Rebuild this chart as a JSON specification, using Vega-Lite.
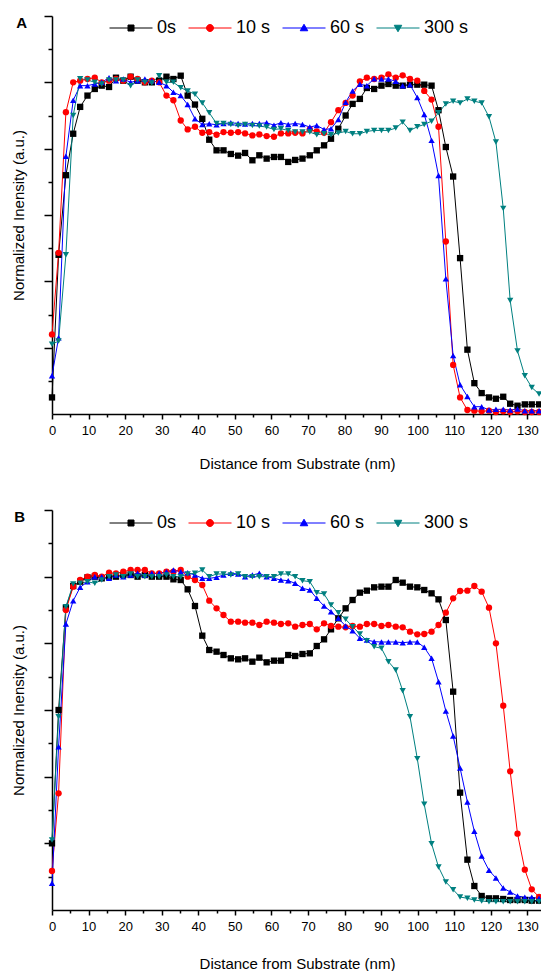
{
"$schema": "https://vega.github.io/schema/vega-lite/v6.json",
"background": "white",
"padding": {"left": 11, "top": 15, "right": 0, "bottom": 0},
"spacing": 38,
"config": {
  "font": "Liberation Sans",
  "view": {"stroke": null},
  "axis": {"grid": false, "domainColor": "#000000", "domainWidth": 1.5, "tickColor": "#000000", "tickWidth": 1.5, "labelColor": "#000000", "titleColor": "#000000", "titleFontWeight": "normal", "labelFont": "Liberation Sans", "titleFont": "Liberation Sans"}
},
"datasets": {
"A": [
{"x":0,"y":0.05,"s":"0s"},{"x":1.8,"y":0.48,"s":"0s"},{"x":3.8,"y":0.72,"s":"0s"},{"x":5.8,"y":0.845,"s":"0s"},{"x":7.7,"y":0.926,"s":"0s"},{"x":9.7,"y":0.96,"s":"0s"},{"x":11.7,"y":0.98,"s":"0s"},{"x":13.6,"y":0.99,"s":"0s"},{"x":15.6,"y":0.986,"s":"0s"},{"x":17.5,"y":1.014,"s":"0s"},{"x":19.5,"y":1.005,"s":"0s"},{"x":21.5,"y":1.017,"s":"0s"},{"x":23.4,"y":1.005,"s":"0s"},{"x":25.4,"y":1.0,"s":"0s"},{"x":27.3,"y":1.0,"s":"0s"},{"x":29.3,"y":1.005,"s":"0s"},{"x":31.3,"y":1.017,"s":"0s"},{"x":33.2,"y":1.01,"s":"0s"},{"x":35.2,"y":1.02,"s":"0s"},{"x":37.1,"y":0.96,"s":"0s"},{"x":39.1,"y":0.933,"s":"0s"},{"x":41.1,"y":0.89,"s":"0s"},{"x":43.0,"y":0.827,"s":"0s"},{"x":45.0,"y":0.795,"s":"0s"},{"x":46.9,"y":0.795,"s":"0s"},{"x":48.9,"y":0.784,"s":"0s"},{"x":50.9,"y":0.779,"s":"0s"},{"x":52.8,"y":0.787,"s":"0s"},{"x":54.8,"y":0.765,"s":"0s"},{"x":56.7,"y":0.78,"s":"0s"},{"x":58.7,"y":0.77,"s":"0s"},{"x":60.7,"y":0.775,"s":"0s"},{"x":62.6,"y":0.775,"s":"0s"},{"x":64.6,"y":0.76,"s":"0s"},{"x":66.5,"y":0.766,"s":"0s"},{"x":68.5,"y":0.77,"s":"0s"},{"x":70.5,"y":0.78,"s":"0s"},{"x":72.4,"y":0.795,"s":"0s"},{"x":74.4,"y":0.81,"s":"0s"},{"x":76.3,"y":0.83,"s":"0s"},{"x":78.3,"y":0.86,"s":"0s"},{"x":80.3,"y":0.9,"s":"0s"},{"x":82.2,"y":0.935,"s":"0s"},{"x":84.2,"y":0.95,"s":"0s"},{"x":86.1,"y":0.983,"s":"0s"},{"x":88.1,"y":0.98,"s":"0s"},{"x":90.1,"y":0.99,"s":"0s"},{"x":92.0,"y":0.995,"s":"0s"},{"x":94.0,"y":0.99,"s":"0s"},{"x":95.9,"y":0.99,"s":"0s"},{"x":97.9,"y":0.993,"s":"0s"},{"x":99.9,"y":0.993,"s":"0s"},{"x":101.8,"y":0.993,"s":"0s"},{"x":103.8,"y":0.99,"s":"0s"},{"x":105.7,"y":0.916,"s":"0s"},{"x":107.7,"y":0.805,"s":"0s"},{"x":109.7,"y":0.716,"s":"0s"},{"x":111.6,"y":0.47,"s":"0s"},{"x":113.6,"y":0.194,"s":"0s"},{"x":115.5,"y":0.093,"s":"0s"},{"x":117.5,"y":0.063,"s":"0s"},{"x":119.5,"y":0.05,"s":"0s"},{"x":121.4,"y":0.046,"s":"0s"},{"x":123.4,"y":0.052,"s":"0s"},{"x":125.3,"y":0.031,"s":"0s"},{"x":127.3,"y":0.025,"s":"0s"},{"x":129.3,"y":0.029,"s":"0s"},{"x":131.2,"y":0.029,"s":"0s"},{"x":133.2,"y":0.029,"s":"0s"},
{"x":0,"y":0.24,"s":"10 s"},{"x":1.8,"y":0.486,"s":"10 s"},{"x":3.8,"y":0.91,"s":"10 s"},{"x":5.8,"y":1.0,"s":"10 s"},{"x":7.7,"y":1.005,"s":"10 s"},{"x":9.7,"y":1.01,"s":"10 s"},{"x":11.7,"y":1.014,"s":"10 s"},{"x":13.6,"y":1.0,"s":"10 s"},{"x":15.6,"y":1.005,"s":"10 s"},{"x":17.5,"y":1.01,"s":"10 s"},{"x":19.5,"y":1.005,"s":"10 s"},{"x":21.5,"y":1.017,"s":"10 s"},{"x":23.4,"y":1.01,"s":"10 s"},{"x":25.4,"y":1.0,"s":"10 s"},{"x":27.3,"y":1.005,"s":"10 s"},{"x":29.3,"y":1.0,"s":"10 s"},{"x":31.3,"y":0.96,"s":"10 s"},{"x":33.2,"y":0.946,"s":"10 s"},{"x":35.2,"y":0.885,"s":"10 s"},{"x":37.1,"y":0.858,"s":"10 s"},{"x":39.1,"y":0.866,"s":"10 s"},{"x":41.1,"y":0.848,"s":"10 s"},{"x":43.0,"y":0.85,"s":"10 s"},{"x":45.0,"y":0.842,"s":"10 s"},{"x":46.9,"y":0.85,"s":"10 s"},{"x":48.9,"y":0.848,"s":"10 s"},{"x":50.9,"y":0.85,"s":"10 s"},{"x":52.8,"y":0.846,"s":"10 s"},{"x":54.8,"y":0.84,"s":"10 s"},{"x":56.7,"y":0.843,"s":"10 s"},{"x":58.7,"y":0.838,"s":"10 s"},{"x":60.7,"y":0.836,"s":"10 s"},{"x":62.6,"y":0.846,"s":"10 s"},{"x":64.6,"y":0.846,"s":"10 s"},{"x":66.5,"y":0.848,"s":"10 s"},{"x":68.5,"y":0.846,"s":"10 s"},{"x":70.5,"y":0.858,"s":"10 s"},{"x":72.4,"y":0.852,"s":"10 s"},{"x":74.4,"y":0.848,"s":"10 s"},{"x":76.3,"y":0.88,"s":"10 s"},{"x":78.3,"y":0.916,"s":"10 s"},{"x":80.3,"y":0.938,"s":"10 s"},{"x":82.2,"y":0.96,"s":"10 s"},{"x":84.2,"y":1.003,"s":"10 s"},{"x":86.1,"y":1.014,"s":"10 s"},{"x":88.1,"y":1.01,"s":"10 s"},{"x":90.1,"y":1.014,"s":"10 s"},{"x":92.0,"y":1.024,"s":"10 s"},{"x":94.0,"y":1.014,"s":"10 s"},{"x":95.9,"y":1.021,"s":"10 s"},{"x":97.9,"y":1.01,"s":"10 s"},{"x":99.9,"y":1.005,"s":"10 s"},{"x":101.8,"y":0.974,"s":"10 s"},{"x":103.8,"y":0.948,"s":"10 s"},{"x":105.7,"y":0.866,"s":"10 s"},{"x":107.7,"y":0.52,"s":"10 s"},{"x":109.7,"y":0.148,"s":"10 s"},{"x":111.6,"y":0.05,"s":"10 s"},{"x":113.6,"y":0.012,"s":"10 s"},{"x":115.5,"y":0.01,"s":"10 s"},{"x":117.5,"y":0.008,"s":"10 s"},{"x":119.5,"y":0.01,"s":"10 s"},{"x":121.4,"y":0.006,"s":"10 s"},{"x":123.4,"y":0.008,"s":"10 s"},{"x":125.3,"y":0.006,"s":"10 s"},{"x":127.3,"y":0.008,"s":"10 s"},{"x":129.3,"y":0.006,"s":"10 s"},{"x":131.2,"y":0.006,"s":"10 s"},{"x":133.2,"y":0.006,"s":"10 s"},
{"x":0,"y":0.115,"s":"60 s"},{"x":1.8,"y":0.23,"s":"60 s"},{"x":3.8,"y":0.777,"s":"60 s"},{"x":5.8,"y":0.946,"s":"60 s"},{"x":7.7,"y":0.99,"s":"60 s"},{"x":9.7,"y":0.99,"s":"60 s"},{"x":11.7,"y":0.995,"s":"60 s"},{"x":13.6,"y":1.0,"s":"60 s"},{"x":15.6,"y":1.014,"s":"60 s"},{"x":17.5,"y":1.005,"s":"60 s"},{"x":19.5,"y":1.01,"s":"60 s"},{"x":21.5,"y":1.0,"s":"60 s"},{"x":23.4,"y":1.005,"s":"60 s"},{"x":25.4,"y":1.01,"s":"60 s"},{"x":27.3,"y":1.005,"s":"60 s"},{"x":29.3,"y":1.0,"s":"60 s"},{"x":31.3,"y":0.99,"s":"60 s"},{"x":33.2,"y":0.97,"s":"60 s"},{"x":35.2,"y":0.96,"s":"60 s"},{"x":37.1,"y":0.933,"s":"60 s"},{"x":39.1,"y":0.89,"s":"60 s"},{"x":41.1,"y":0.873,"s":"60 s"},{"x":43.0,"y":0.875,"s":"60 s"},{"x":45.0,"y":0.872,"s":"60 s"},{"x":46.9,"y":0.876,"s":"60 s"},{"x":48.9,"y":0.878,"s":"60 s"},{"x":50.9,"y":0.876,"s":"60 s"},{"x":52.8,"y":0.874,"s":"60 s"},{"x":54.8,"y":0.876,"s":"60 s"},{"x":56.7,"y":0.876,"s":"60 s"},{"x":58.7,"y":0.878,"s":"60 s"},{"x":60.7,"y":0.871,"s":"60 s"},{"x":62.6,"y":0.878,"s":"60 s"},{"x":64.6,"y":0.873,"s":"60 s"},{"x":66.5,"y":0.876,"s":"60 s"},{"x":68.5,"y":0.873,"s":"60 s"},{"x":70.5,"y":0.865,"s":"60 s"},{"x":72.4,"y":0.87,"s":"60 s"},{"x":74.4,"y":0.858,"s":"60 s"},{"x":76.3,"y":0.86,"s":"60 s"},{"x":78.3,"y":0.888,"s":"60 s"},{"x":80.3,"y":0.94,"s":"60 s"},{"x":82.2,"y":0.974,"s":"60 s"},{"x":84.2,"y":0.994,"s":"60 s"},{"x":86.1,"y":0.99,"s":"60 s"},{"x":88.1,"y":1.011,"s":"60 s"},{"x":90.1,"y":1.01,"s":"60 s"},{"x":92.0,"y":1.01,"s":"60 s"},{"x":94.0,"y":1.003,"s":"60 s"},{"x":95.9,"y":0.99,"s":"60 s"},{"x":97.9,"y":0.993,"s":"60 s"},{"x":99.9,"y":0.954,"s":"60 s"},{"x":101.8,"y":0.903,"s":"60 s"},{"x":103.8,"y":0.825,"s":"60 s"},{"x":105.7,"y":0.719,"s":"60 s"},{"x":107.7,"y":0.408,"s":"60 s"},{"x":109.7,"y":0.176,"s":"60 s"},{"x":111.6,"y":0.088,"s":"60 s"},{"x":113.6,"y":0.053,"s":"60 s"},{"x":115.5,"y":0.022,"s":"60 s"},{"x":117.5,"y":0.022,"s":"60 s"},{"x":119.5,"y":0.012,"s":"60 s"},{"x":121.4,"y":0.014,"s":"60 s"},{"x":123.4,"y":0.014,"s":"60 s"},{"x":125.3,"y":0.012,"s":"60 s"},{"x":127.3,"y":0.015,"s":"60 s"},{"x":129.3,"y":0.01,"s":"60 s"},{"x":131.2,"y":0.01,"s":"60 s"},{"x":133.2,"y":0.01,"s":"60 s"},
{"x":0,"y":0.21,"s":"300 s"},{"x":1.8,"y":0.22,"s":"300 s"},{"x":3.8,"y":0.48,"s":"300 s"},{"x":5.8,"y":0.9,"s":"300 s"},{"x":7.7,"y":1.011,"s":"300 s"},{"x":9.7,"y":1.007,"s":"300 s"},{"x":11.7,"y":1.0,"s":"300 s"},{"x":13.6,"y":0.995,"s":"300 s"},{"x":15.6,"y":1.007,"s":"300 s"},{"x":17.5,"y":1.007,"s":"300 s"},{"x":19.5,"y":1.007,"s":"300 s"},{"x":21.5,"y":0.99,"s":"300 s"},{"x":23.4,"y":1.007,"s":"300 s"},{"x":25.4,"y":1.0,"s":"300 s"},{"x":27.3,"y":0.998,"s":"300 s"},{"x":29.3,"y":1.02,"s":"300 s"},{"x":31.3,"y":1.0,"s":"300 s"},{"x":33.2,"y":1.0,"s":"300 s"},{"x":35.2,"y":0.984,"s":"300 s"},{"x":37.1,"y":0.974,"s":"300 s"},{"x":39.1,"y":0.964,"s":"300 s"},{"x":41.1,"y":0.938,"s":"300 s"},{"x":43.0,"y":0.908,"s":"300 s"},{"x":45.0,"y":0.876,"s":"300 s"},{"x":46.9,"y":0.876,"s":"300 s"},{"x":48.9,"y":0.873,"s":"300 s"},{"x":50.9,"y":0.87,"s":"300 s"},{"x":52.8,"y":0.873,"s":"300 s"},{"x":54.8,"y":0.87,"s":"300 s"},{"x":56.7,"y":0.868,"s":"300 s"},{"x":58.7,"y":0.865,"s":"300 s"},{"x":60.7,"y":0.858,"s":"300 s"},{"x":62.6,"y":0.86,"s":"300 s"},{"x":64.6,"y":0.855,"s":"300 s"},{"x":66.5,"y":0.85,"s":"300 s"},{"x":68.5,"y":0.85,"s":"300 s"},{"x":70.5,"y":0.85,"s":"300 s"},{"x":72.4,"y":0.842,"s":"300 s"},{"x":74.4,"y":0.845,"s":"300 s"},{"x":76.3,"y":0.842,"s":"300 s"},{"x":78.3,"y":0.847,"s":"300 s"},{"x":80.3,"y":0.852,"s":"300 s"},{"x":82.2,"y":0.845,"s":"300 s"},{"x":84.2,"y":0.845,"s":"300 s"},{"x":86.1,"y":0.852,"s":"300 s"},{"x":88.1,"y":0.855,"s":"300 s"},{"x":90.1,"y":0.855,"s":"300 s"},{"x":92.0,"y":0.855,"s":"300 s"},{"x":94.0,"y":0.862,"s":"300 s"},{"x":95.9,"y":0.88,"s":"300 s"},{"x":97.9,"y":0.855,"s":"300 s"},{"x":99.9,"y":0.866,"s":"300 s"},{"x":101.8,"y":0.873,"s":"300 s"},{"x":103.8,"y":0.883,"s":"300 s"},{"x":105.7,"y":0.908,"s":"300 s"},{"x":107.7,"y":0.935,"s":"300 s"},{"x":109.7,"y":0.943,"s":"300 s"},{"x":111.6,"y":0.938,"s":"300 s"},{"x":113.6,"y":0.95,"s":"300 s"},{"x":115.5,"y":0.943,"s":"300 s"},{"x":117.5,"y":0.938,"s":"300 s"},{"x":119.5,"y":0.896,"s":"300 s"},{"x":121.4,"y":0.82,"s":"300 s"},{"x":123.4,"y":0.62,"s":"300 s"},{"x":125.3,"y":0.342,"s":"300 s"},{"x":127.3,"y":0.19,"s":"300 s"},{"x":129.3,"y":0.115,"s":"300 s"},{"x":131.2,"y":0.08,"s":"300 s"},{"x":133.2,"y":0.06,"s":"300 s"}
],
"B": [
{"x":0,"y":0.2,"s":"0s"},{"x":1.8,"y":0.6,"s":"0s"},{"x":3.8,"y":0.907,"s":"0s"},{"x":5.8,"y":0.972,"s":"0s"},{"x":7.7,"y":0.985,"s":"0s"},{"x":9.7,"y":0.998,"s":"0s"},{"x":11.7,"y":1.0,"s":"0s"},{"x":13.6,"y":0.995,"s":"0s"},{"x":15.6,"y":1.0,"s":"0s"},{"x":17.5,"y":1.0,"s":"0s"},{"x":19.5,"y":1.005,"s":"0s"},{"x":21.5,"y":1.005,"s":"0s"},{"x":23.4,"y":1.0,"s":"0s"},{"x":25.4,"y":1.005,"s":"0s"},{"x":27.3,"y":1.0,"s":"0s"},{"x":29.3,"y":1.0,"s":"0s"},{"x":31.3,"y":1.0,"s":"0s"},{"x":33.2,"y":0.992,"s":"0s"},{"x":35.2,"y":0.99,"s":"0s"},{"x":37.1,"y":0.962,"s":"0s"},{"x":39.1,"y":0.912,"s":"0s"},{"x":41.1,"y":0.823,"s":"0s"},{"x":43.0,"y":0.78,"s":"0s"},{"x":45.0,"y":0.775,"s":"0s"},{"x":46.9,"y":0.765,"s":"0s"},{"x":48.9,"y":0.755,"s":"0s"},{"x":50.9,"y":0.752,"s":"0s"},{"x":52.8,"y":0.755,"s":"0s"},{"x":54.8,"y":0.745,"s":"0s"},{"x":56.7,"y":0.757,"s":"0s"},{"x":58.7,"y":0.743,"s":"0s"},{"x":60.7,"y":0.748,"s":"0s"},{"x":62.6,"y":0.748,"s":"0s"},{"x":64.6,"y":0.765,"s":"0s"},{"x":66.5,"y":0.762,"s":"0s"},{"x":68.5,"y":0.768,"s":"0s"},{"x":70.5,"y":0.77,"s":"0s"},{"x":72.4,"y":0.792,"s":"0s"},{"x":74.4,"y":0.812,"s":"0s"},{"x":76.3,"y":0.842,"s":"0s"},{"x":78.3,"y":0.875,"s":"0s"},{"x":80.3,"y":0.905,"s":"0s"},{"x":82.2,"y":0.93,"s":"0s"},{"x":84.2,"y":0.952,"s":"0s"},{"x":86.1,"y":0.958,"s":"0s"},{"x":88.1,"y":0.968,"s":"0s"},{"x":90.1,"y":0.97,"s":"0s"},{"x":92.0,"y":0.97,"s":"0s"},{"x":94.0,"y":0.99,"s":"0s"},{"x":95.9,"y":0.982,"s":"0s"},{"x":97.9,"y":0.97,"s":"0s"},{"x":99.9,"y":0.968,"s":"0s"},{"x":101.8,"y":0.96,"s":"0s"},{"x":103.8,"y":0.95,"s":"0s"},{"x":105.7,"y":0.932,"s":"0s"},{"x":107.7,"y":0.87,"s":"0s"},{"x":109.7,"y":0.655,"s":"0s"},{"x":111.6,"y":0.352,"s":"0s"},{"x":113.6,"y":0.151,"s":"0s"},{"x":115.5,"y":0.072,"s":"0s"},{"x":117.5,"y":0.042,"s":"0s"},{"x":119.5,"y":0.035,"s":"0s"},{"x":121.4,"y":0.035,"s":"0s"},{"x":123.4,"y":0.033,"s":"0s"},{"x":125.3,"y":0.03,"s":"0s"},{"x":127.3,"y":0.03,"s":"0s"},{"x":129.3,"y":0.03,"s":"0s"},{"x":131.2,"y":0.028,"s":"0s"},{"x":133.2,"y":0.028,"s":"0s"},
{"x":0,"y":0.117,"s":"10 s"},{"x":1.8,"y":0.35,"s":"10 s"},{"x":3.8,"y":0.9,"s":"10 s"},{"x":5.8,"y":0.97,"s":"10 s"},{"x":7.7,"y":0.99,"s":"10 s"},{"x":9.7,"y":1.0,"s":"10 s"},{"x":11.7,"y":1.005,"s":"10 s"},{"x":13.6,"y":1.0,"s":"10 s"},{"x":15.6,"y":1.012,"s":"10 s"},{"x":17.5,"y":1.01,"s":"10 s"},{"x":19.5,"y":1.015,"s":"10 s"},{"x":21.5,"y":1.02,"s":"10 s"},{"x":23.4,"y":1.02,"s":"10 s"},{"x":25.4,"y":1.02,"s":"10 s"},{"x":27.3,"y":1.01,"s":"10 s"},{"x":29.3,"y":1.01,"s":"10 s"},{"x":31.3,"y":1.015,"s":"10 s"},{"x":33.2,"y":1.015,"s":"10 s"},{"x":35.2,"y":1.02,"s":"10 s"},{"x":37.1,"y":1.0,"s":"10 s"},{"x":39.1,"y":0.99,"s":"10 s"},{"x":41.1,"y":0.975,"s":"10 s"},{"x":43.0,"y":0.928,"s":"10 s"},{"x":45.0,"y":0.905,"s":"10 s"},{"x":46.9,"y":0.885,"s":"10 s"},{"x":48.9,"y":0.865,"s":"10 s"},{"x":50.9,"y":0.865,"s":"10 s"},{"x":52.8,"y":0.862,"s":"10 s"},{"x":54.8,"y":0.862,"s":"10 s"},{"x":56.7,"y":0.855,"s":"10 s"},{"x":58.7,"y":0.865,"s":"10 s"},{"x":60.7,"y":0.862,"s":"10 s"},{"x":62.6,"y":0.858,"s":"10 s"},{"x":64.6,"y":0.86,"s":"10 s"},{"x":66.5,"y":0.85,"s":"10 s"},{"x":68.5,"y":0.855,"s":"10 s"},{"x":70.5,"y":0.858,"s":"10 s"},{"x":72.4,"y":0.842,"s":"10 s"},{"x":74.4,"y":0.86,"s":"10 s"},{"x":76.3,"y":0.852,"s":"10 s"},{"x":78.3,"y":0.85,"s":"10 s"},{"x":80.3,"y":0.848,"s":"10 s"},{"x":82.2,"y":0.852,"s":"10 s"},{"x":84.2,"y":0.85,"s":"10 s"},{"x":86.1,"y":0.858,"s":"10 s"},{"x":88.1,"y":0.858,"s":"10 s"},{"x":90.1,"y":0.852,"s":"10 s"},{"x":92.0,"y":0.855,"s":"10 s"},{"x":94.0,"y":0.85,"s":"10 s"},{"x":95.9,"y":0.848,"s":"10 s"},{"x":97.9,"y":0.835,"s":"10 s"},{"x":99.9,"y":0.827,"s":"10 s"},{"x":101.8,"y":0.828,"s":"10 s"},{"x":103.8,"y":0.835,"s":"10 s"},{"x":105.7,"y":0.855,"s":"10 s"},{"x":107.7,"y":0.892,"s":"10 s"},{"x":109.7,"y":0.935,"s":"10 s"},{"x":111.6,"y":0.957,"s":"10 s"},{"x":113.6,"y":0.958,"s":"10 s"},{"x":115.5,"y":0.972,"s":"10 s"},{"x":117.5,"y":0.955,"s":"10 s"},{"x":119.5,"y":0.907,"s":"10 s"},{"x":121.4,"y":0.8,"s":"10 s"},{"x":123.4,"y":0.613,"s":"10 s"},{"x":125.3,"y":0.416,"s":"10 s"},{"x":127.3,"y":0.229,"s":"10 s"},{"x":129.3,"y":0.121,"s":"10 s"},{"x":131.2,"y":0.062,"s":"10 s"},{"x":133.2,"y":0.039,"s":"10 s"},
{"x":0,"y":0.08,"s":"60 s"},{"x":1.8,"y":0.49,"s":"60 s"},{"x":3.8,"y":0.858,"s":"60 s"},{"x":5.8,"y":0.928,"s":"60 s"},{"x":7.7,"y":0.968,"s":"60 s"},{"x":9.7,"y":0.985,"s":"60 s"},{"x":11.7,"y":1.0,"s":"60 s"},{"x":13.6,"y":1.0,"s":"60 s"},{"x":15.6,"y":0.995,"s":"60 s"},{"x":17.5,"y":1.005,"s":"60 s"},{"x":19.5,"y":1.0,"s":"60 s"},{"x":21.5,"y":1.005,"s":"60 s"},{"x":23.4,"y":1.01,"s":"60 s"},{"x":25.4,"y":1.005,"s":"60 s"},{"x":27.3,"y":1.01,"s":"60 s"},{"x":29.3,"y":1.01,"s":"60 s"},{"x":31.3,"y":1.015,"s":"60 s"},{"x":33.2,"y":1.02,"s":"60 s"},{"x":35.2,"y":1.015,"s":"60 s"},{"x":37.1,"y":1.012,"s":"60 s"},{"x":39.1,"y":1.005,"s":"60 s"},{"x":41.1,"y":0.995,"s":"60 s"},{"x":43.0,"y":0.995,"s":"60 s"},{"x":45.0,"y":0.998,"s":"60 s"},{"x":46.9,"y":1.005,"s":"60 s"},{"x":48.9,"y":1.01,"s":"60 s"},{"x":50.9,"y":1.008,"s":"60 s"},{"x":52.8,"y":1.0,"s":"60 s"},{"x":54.8,"y":1.005,"s":"60 s"},{"x":56.7,"y":1.01,"s":"60 s"},{"x":58.7,"y":1.0,"s":"60 s"},{"x":60.7,"y":0.995,"s":"60 s"},{"x":62.6,"y":0.99,"s":"60 s"},{"x":64.6,"y":0.988,"s":"60 s"},{"x":66.5,"y":0.98,"s":"60 s"},{"x":68.5,"y":0.965,"s":"60 s"},{"x":70.5,"y":0.96,"s":"60 s"},{"x":72.4,"y":0.935,"s":"60 s"},{"x":74.4,"y":0.912,"s":"60 s"},{"x":76.3,"y":0.895,"s":"60 s"},{"x":78.3,"y":0.875,"s":"60 s"},{"x":80.3,"y":0.852,"s":"60 s"},{"x":82.2,"y":0.838,"s":"60 s"},{"x":84.2,"y":0.815,"s":"60 s"},{"x":86.1,"y":0.81,"s":"60 s"},{"x":88.1,"y":0.805,"s":"60 s"},{"x":90.1,"y":0.804,"s":"60 s"},{"x":92.0,"y":0.804,"s":"60 s"},{"x":94.0,"y":0.804,"s":"60 s"},{"x":95.9,"y":0.802,"s":"60 s"},{"x":97.9,"y":0.804,"s":"60 s"},{"x":99.9,"y":0.804,"s":"60 s"},{"x":101.8,"y":0.788,"s":"60 s"},{"x":103.8,"y":0.755,"s":"60 s"},{"x":105.7,"y":0.685,"s":"60 s"},{"x":107.7,"y":0.597,"s":"60 s"},{"x":109.7,"y":0.522,"s":"60 s"},{"x":111.6,"y":0.426,"s":"60 s"},{"x":113.6,"y":0.324,"s":"60 s"},{"x":115.5,"y":0.236,"s":"60 s"},{"x":117.5,"y":0.162,"s":"60 s"},{"x":119.5,"y":0.119,"s":"60 s"},{"x":121.4,"y":0.096,"s":"60 s"},{"x":123.4,"y":0.066,"s":"60 s"},{"x":125.3,"y":0.054,"s":"60 s"},{"x":127.3,"y":0.042,"s":"60 s"},{"x":129.3,"y":0.038,"s":"60 s"},{"x":131.2,"y":0.038,"s":"60 s"},{"x":133.2,"y":0.035,"s":"60 s"},
{"x":0,"y":0.21,"s":"300 s"},{"x":1.8,"y":0.58,"s":"300 s"},{"x":3.8,"y":0.91,"s":"300 s"},{"x":5.8,"y":0.978,"s":"300 s"},{"x":7.7,"y":0.98,"s":"300 s"},{"x":9.7,"y":0.985,"s":"300 s"},{"x":11.7,"y":0.98,"s":"300 s"},{"x":13.6,"y":0.99,"s":"300 s"},{"x":15.6,"y":1.0,"s":"300 s"},{"x":17.5,"y":1.005,"s":"300 s"},{"x":19.5,"y":1.0,"s":"300 s"},{"x":21.5,"y":1.008,"s":"300 s"},{"x":23.4,"y":1.0,"s":"300 s"},{"x":25.4,"y":1.0,"s":"300 s"},{"x":27.3,"y":1.0,"s":"300 s"},{"x":29.3,"y":1.0,"s":"300 s"},{"x":31.3,"y":1.005,"s":"300 s"},{"x":33.2,"y":1.0,"s":"300 s"},{"x":35.2,"y":1.0,"s":"300 s"},{"x":37.1,"y":1.008,"s":"300 s"},{"x":39.1,"y":1.01,"s":"300 s"},{"x":41.1,"y":1.02,"s":"300 s"},{"x":43.0,"y":1.0,"s":"300 s"},{"x":45.0,"y":1.008,"s":"300 s"},{"x":46.9,"y":1.008,"s":"300 s"},{"x":48.9,"y":1.005,"s":"300 s"},{"x":50.9,"y":1.008,"s":"300 s"},{"x":52.8,"y":1.0,"s":"300 s"},{"x":54.8,"y":1.0,"s":"300 s"},{"x":56.7,"y":1.0,"s":"300 s"},{"x":58.7,"y":1.0,"s":"300 s"},{"x":60.7,"y":1.0,"s":"300 s"},{"x":62.6,"y":1.008,"s":"300 s"},{"x":64.6,"y":1.008,"s":"300 s"},{"x":66.5,"y":1.0,"s":"300 s"},{"x":68.5,"y":0.988,"s":"300 s"},{"x":70.5,"y":0.985,"s":"300 s"},{"x":72.4,"y":0.952,"s":"300 s"},{"x":74.4,"y":0.948,"s":"300 s"},{"x":76.3,"y":0.915,"s":"300 s"},{"x":78.3,"y":0.892,"s":"300 s"},{"x":80.3,"y":0.872,"s":"300 s"},{"x":82.2,"y":0.85,"s":"300 s"},{"x":84.2,"y":0.828,"s":"300 s"},{"x":86.1,"y":0.808,"s":"300 s"},{"x":88.1,"y":0.79,"s":"300 s"},{"x":90.1,"y":0.785,"s":"300 s"},{"x":92.0,"y":0.745,"s":"300 s"},{"x":94.0,"y":0.72,"s":"300 s"},{"x":95.9,"y":0.658,"s":"300 s"},{"x":97.9,"y":0.58,"s":"300 s"},{"x":99.9,"y":0.454,"s":"300 s"},{"x":101.8,"y":0.317,"s":"300 s"},{"x":103.8,"y":0.199,"s":"300 s"},{"x":105.7,"y":0.129,"s":"300 s"},{"x":107.7,"y":0.084,"s":"300 s"},{"x":109.7,"y":0.061,"s":"300 s"},{"x":111.6,"y":0.039,"s":"300 s"},{"x":113.6,"y":0.035,"s":"300 s"},{"x":115.5,"y":0.03,"s":"300 s"},{"x":117.5,"y":0.027,"s":"300 s"},{"x":119.5,"y":0.025,"s":"300 s"},{"x":121.4,"y":0.025,"s":"300 s"},{"x":123.4,"y":0.025,"s":"300 s"},{"x":125.3,"y":0.025,"s":"300 s"},{"x":127.3,"y":0.025,"s":"300 s"},{"x":129.3,"y":0.025,"s":"300 s"},{"x":131.2,"y":0.025,"s":"300 s"},{"x":133.2,"y":0.025,"s":"300 s"}
]
},
"vconcat": [
{
  "width": 490, "height": 398,
  "data": {"name": "A"},
  "title": {"text": "A", "anchor": "start", "frame": "bounds", "fontSize": 15, "fontWeight": "bold", "color": "#000000", "offset": 0, "dy": 16, "dx": 5},
  "encoding": {
    "x": {"field": "x", "type": "quantitative", "scale": {"domain": [0, 134], "nice": false, "zero": false},
      "axis": {"title": "Distance from Substrate (nm)", "values": [0,5,10,15,20,25,30,35,40,45,50,55,60,65,70,75,80,85,90,95,100,105,110,115,120,125,130], "labelExpr": "datum.value % 10 === 0 ? datum.label : ''", "labelOverlap": false, "labelFlush": false, "tickSize": {"condition": {"test": "datum.value % 10 === 0", "value": 5}, "value": 3}, "labelFontSize": 13, "titleFontSize": 15, "labelPadding": 5, "titlePadding": 19}},
    "y": {"field": "y", "type": "quantitative", "scale": {"domain": [0, 1.2], "nice": false},
      "axis": {"title": "Normalized Inensity (a.u.)", "values": [0.1,0.2,0.3,0.4,0.5,0.6,0.7,0.8,0.9,1.0,1.1,1.2], "labels": false, "tickSize": {"condition": {"test": "round(datum.value*10) % 2 === 0", "value": 8}, "value": 4}, "titleFontSize": 15, "titlePadding": 17}},
    "color": {"field": "s", "type": "nominal", "scale": {"domain": ["0s","10 s","60 s","300 s"], "range": ["#000000","#ff0000","#0000ff","#008080"]},
      "legend": {"orient": "none", "legendX": 70, "legendY": 3, "direction": "horizontal", "title": null, "labelFont": "Liberation Sans", "labelFontSize": 18, "labelColor": "#000000", "symbolSize": 100, "labelOffset": 17, "columnPadding": 9, "padding": 0,
        "encode": {"symbols": {"update": {
          "shape": {"signal": "datum.value === '0s' ? 'M-4.3,0H4.3M-0.6,-0.6H0.6V0.6H-0.6Z' : datum.value === '10 s' ? 'M-4.3,0H4.3M0.7,0A0.7,0.7,0,1,1,-0.7,0A0.7,0.7,0,1,1,0.7,0Z' : datum.value === '60 s' ? 'M-4.3,0H4.3M0,-0.75L0.75,0.55H-0.75Z' : 'M-4.3,0H4.3M0,0.75L0.75,-0.55H-0.75Z'"},
          "fill": {"signal": "datum.value === '0s' ? '#000000' : datum.value === '10 s' ? '#ff0000' : datum.value === '60 s' ? '#0000ff' : '#008080'"},
          "stroke": {"signal": "datum.value === '0s' ? '#000000' : datum.value === '10 s' ? '#ff0000' : datum.value === '60 s' ? '#0000ff' : '#008080'"},
          "strokeWidth": {"value": 1}, "opacity": {"value": 1}, "fillOpacity": {"value": 1}, "strokeOpacity": {"value": 1}}}}}}
  },
  "layer": [
    {"mark": {"type": "line", "strokeWidth": 1}},
    {"mark": {"type": "point", "filled": true, "size": 40, "opacity": 1},
     "encoding": {"shape": {"condition": [{"test": "datum.s === '0s'", "value": "square"}, {"test": "datum.s === '10 s'", "value": "circle"}, {"test": "datum.s === '60 s'", "value": "triangle-up"}], "value": "triangle-down"}}}
  ]
},
{
  "width": 490, "height": 400,
  "data": {"name": "B"},
  "title": {"text": "B", "anchor": "start", "frame": "bounds", "fontSize": 15, "fontWeight": "bold", "color": "#000000", "offset": 0, "dy": 16, "dx": 3},
  "encoding": {
    "x": {"field": "x", "type": "quantitative", "scale": {"domain": [0, 134], "nice": false, "zero": false},
      "axis": {"title": "Distance from Substrate (nm)", "values": [0,5,10,15,20,25,30,35,40,45,50,55,60,65,70,75,80,85,90,95,100,105,110,115,120,125,130], "labelExpr": "datum.value % 10 === 0 ? datum.label : ''", "labelOverlap": false, "labelFlush": false, "tickSize": {"condition": {"test": "datum.value % 10 === 0", "value": 5}, "value": 3}, "labelFontSize": 13, "titleFontSize": 15, "labelPadding": 5, "titlePadding": 23}},
    "y": {"field": "y", "type": "quantitative", "scale": {"domain": [0, 1.2], "nice": false},
      "axis": {"title": "Normalized Inensity (a.u.)", "values": [0.1,0.2,0.3,0.4,0.5,0.6,0.7,0.8,0.9,1.0,1.1,1.2], "labels": false, "tickSize": {"condition": {"test": "round(datum.value*10) % 2 === 0", "value": 8}, "value": 4}, "titleFontSize": 15, "titlePadding": 17}},
    "color": {"field": "s", "type": "nominal", "scale": {"domain": ["0s","10 s","60 s","300 s"], "range": ["#000000","#ff0000","#0000ff","#008080"]},
      "legend": {"orient": "none", "legendX": 70, "legendY": 4, "direction": "horizontal", "title": null, "labelFont": "Liberation Sans", "labelFontSize": 18, "labelColor": "#000000", "symbolSize": 100, "labelOffset": 17, "columnPadding": 9, "padding": 0,
        "encode": {"symbols": {"update": {
          "shape": {"signal": "datum.value === '0s' ? 'M-4.3,0H4.3M-0.6,-0.6H0.6V0.6H-0.6Z' : datum.value === '10 s' ? 'M-4.3,0H4.3M0.7,0A0.7,0.7,0,1,1,-0.7,0A0.7,0.7,0,1,1,0.7,0Z' : datum.value === '60 s' ? 'M-4.3,0H4.3M0,-0.75L0.75,0.55H-0.75Z' : 'M-4.3,0H4.3M0,0.75L0.75,-0.55H-0.75Z'"},
          "fill": {"signal": "datum.value === '0s' ? '#000000' : datum.value === '10 s' ? '#ff0000' : datum.value === '60 s' ? '#0000ff' : '#008080'"},
          "stroke": {"signal": "datum.value === '0s' ? '#000000' : datum.value === '10 s' ? '#ff0000' : datum.value === '60 s' ? '#0000ff' : '#008080'"},
          "strokeWidth": {"value": 1}, "opacity": {"value": 1}, "fillOpacity": {"value": 1}, "strokeOpacity": {"value": 1}}}}}}
  },
  "layer": [
    {"mark": {"type": "line", "strokeWidth": 1}},
    {"mark": {"type": "point", "filled": true, "size": 40, "opacity": 1},
     "encoding": {"shape": {"condition": [{"test": "datum.s === '0s'", "value": "square"}, {"test": "datum.s === '10 s'", "value": "circle"}, {"test": "datum.s === '60 s'", "value": "triangle-up"}], "value": "triangle-down"}}}
  ]
}
],
"resolve": {"scale": {"color": "independent"}, "legend": {"color": "independent"}}
}
